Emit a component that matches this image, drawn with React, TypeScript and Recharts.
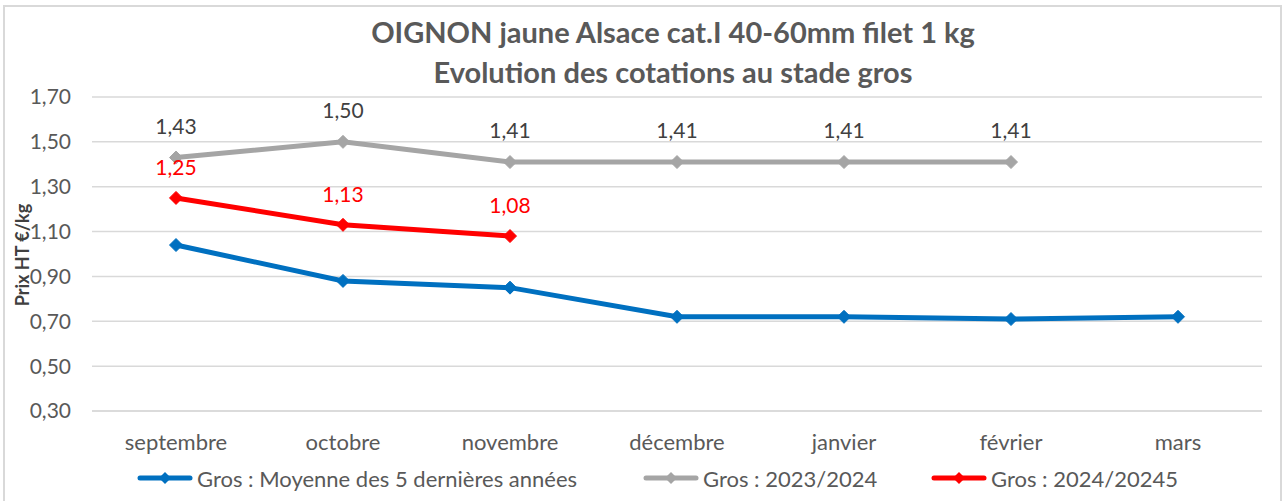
import React from 'react';
import { LineChart, Line, XAxis, YAxis, CartesianGrid, LabelList } from 'recharts';

const months = ['septembre', 'octobre', 'novembre', 'décembre', 'janvier', 'février', 'mars'];
const moyenne5ans = [1.04, 0.88, 0.85, 0.72, 0.72, 0.71, 0.72];
const saison2324 = [1.43, 1.5, 1.41, 1.41, 1.41, 1.41, null];
const saison2425 = [1.25, 1.13, 1.08, null, null, null, null];
const yTicks = [0.3, 0.5, 0.7, 0.9, 1.1, 1.3, 1.5, 1.7];

const seriesInfo = [
  { key: 'moyenne', name: 'Gros : Moyenne des 5 dernières années', color: '#0070C0', left: 137 },
  { key: 's2324', name: 'Gros : 2023/2024', color: '#A5A5A5', left: 643 },
  { key: 's2425', name: 'Gros : 2024/20245', color: '#FF0000', left: 931 },
];

const data = months.map((m, i) => ({
  month: m,
  moyenne: moyenne5ans[i],
  s2324: saison2324[i],
  s2425: saison2425[i],
}));

const font = 'Lato, "Open Sans", sans-serif';
const fmt = (v: number) => v.toFixed(2).replace('.', ',');

const Diamond = (color: string) => (props: any) => {
  const { cx, cy, value } = props;
  if (value == null || cx == null || cy == null) return <g key={props.key} />;
  const r = 6.5;
  return (
    <polygon
      key={props.key}
      points={`${cx},${cy - r} ${cx + r},${cy} ${cx},${cy + r} ${cx - r},${cy}`}
      fill={color}
      stroke={color}
    />
  );
};

function ChartLegend() {
  return (
    <>
      {seriesInfo.map((s) => (
        <div
          key={s.key}
          style={{
            position: 'absolute', left: s.left, top: 464, height: 28,
            display: 'flex', alignItems: 'center',
            fontFamily: font, fontSize: 22, color: '#595959', whiteSpace: 'nowrap',
          }}
        >
          <svg width={56} height={14} style={{ marginRight: 4 }}>
            <line x1={3} y1={7} x2={53} y2={7} stroke={s.color} strokeWidth={5} strokeLinecap="round" />
            <polygon points="28,1 34,7 28,13 22,7" fill={s.color} />
          </svg>
          <span>{s.name}</span>
        </div>
      ))}
    </>
  );
}

export default function App() {
  return (
    <div style={{ position: 'absolute', left: 0, top: 0, width: 1285, height: 501, background: '#fff', overflow: 'hidden' }}>
      <div
        style={{
          position: 'absolute', left: 3, top: 5, width: 1275, height: 520,
          border: '2px solid #D9D9D9',
        }}
      />
      <div
        style={{
          position: 'absolute', left: 0, top: 12, width: 1346, textAlign: 'center',
          fontFamily: font, fontWeight: 'bold', fontSize: 29, lineHeight: '40px', color: '#595959',
        }}
      >
        OIGNON jaune Alsace cat.I 40-60mm filet 1 kg
        <br />
        Evolution des cotations au stade gros
      </div>
      <div
        style={{
          position: 'absolute', left: 22, top: 255, transform: 'translate(-50%, -50%) rotate(-90deg)',
          fontFamily: font, fontWeight: 'bold', fontSize: 18, color: '#404040', whiteSpace: 'nowrap',
        }}
      >
        Prix HT €/kg
      </div>
      <LineChart
        width={1285}
        height={501}
        data={data}
        margin={{ top: 97, right: 23, bottom: 60, left: 22 }}
        style={{ position: 'absolute', left: 0, top: 0 }}
      >
        <CartesianGrid vertical={false} stroke="#D9D9D9" strokeWidth={1.5} />
        <XAxis
          dataKey="month"
          height={30}
          padding={{ left: 84, right: 84 }}
          tickLine={false}
          axisLine={{ stroke: '#D9D9D9', strokeWidth: 1.5 }}
          tickSize={0}
          tickMargin={23}
          tick={{ fontFamily: font, fontSize: 22, fill: '#595959' }}
          interval={0}
        />
        <YAxis
          width={70}
          domain={[0.3, 1.7]}
          ticks={yTicks}
          tickFormatter={fmt}
          tickLine={false}
          axisLine={false}
          tickSize={0}
          tickMargin={21}
          tick={{ fontFamily: font, fontSize: 21, fill: '#595959' }}
        />
        <Line
          dataKey="moyenne"
          name={seriesInfo[0].name}
          stroke="#0070C0"
          strokeWidth={5}
          dot={Diamond('#0070C0')}
          activeDot={false}
          isAnimationActive={false}
        />
        <Line
          dataKey="s2324"
          name={seriesInfo[1].name}
          stroke="#A5A5A5"
          strokeWidth={5}
          dot={Diamond('#A5A5A5')}
          activeDot={false}
          isAnimationActive={false}
        >
          <LabelList
            dataKey="s2324"
            position="top"
            offset={24}
            formatter={(v: any) => (v == null ? '' : fmt(v))}
            style={{ fontFamily: font, fontSize: 21, fill: '#404040' }}
          />
        </Line>
        <Line
          dataKey="s2425"
          name={seriesInfo[2].name}
          stroke="#FF0000"
          strokeWidth={5}
          dot={Diamond('#FF0000')}
          activeDot={false}
          isAnimationActive={false}
        >
          <LabelList
            dataKey="s2425"
            position="top"
            offset={23}
            formatter={(v: any) => (v == null ? '' : fmt(v))}
            style={{ fontFamily: font, fontSize: 21, fill: '#FF0000' }}
          />
        </Line>
      </LineChart>
      <ChartLegend />
    </div>
  );
}
